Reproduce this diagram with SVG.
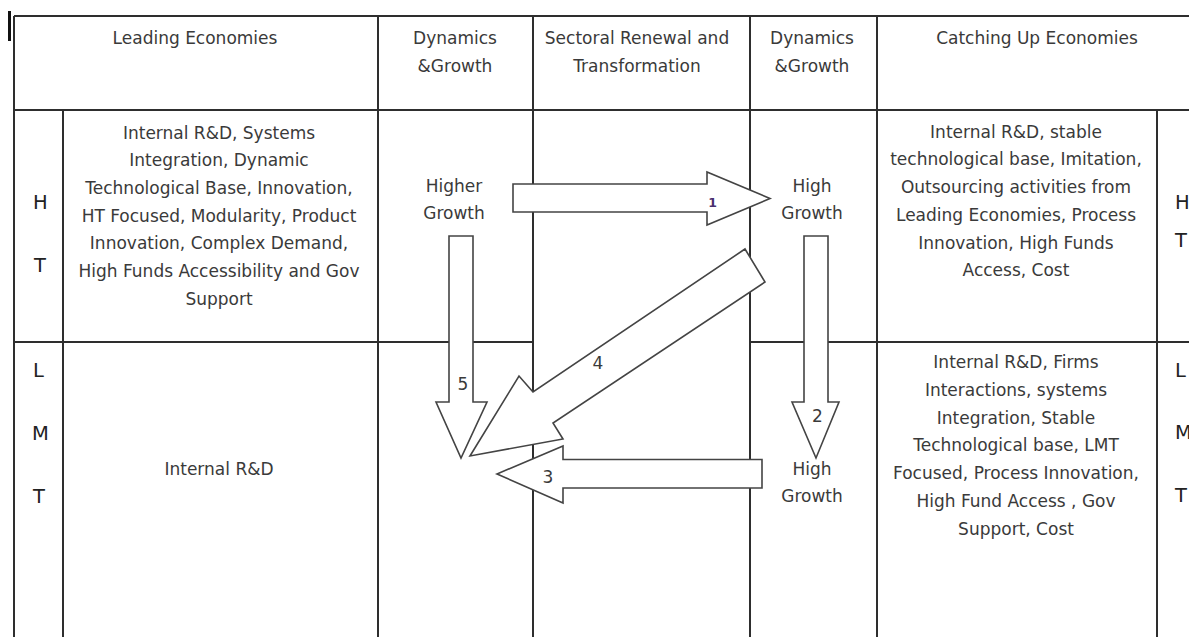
<svg xmlns="http://www.w3.org/2000/svg" width="1189" height="637" viewBox="0 0 1189 637">
<style>
.grid{stroke:#2e2e2e;stroke-width:2;fill:none}
.t{font-family:"DejaVu Sans",sans-serif;font-size:17px;fill:#3a3a3a;text-anchor:middle}
.big{font-family:"DejaVu Sans",sans-serif;font-size:19.5px;fill:#222}
.num{font-family:"DejaVu Sans",sans-serif;font-size:17px;fill:#3a3a3a;text-anchor:middle}
.arrow{fill:#fff;stroke:#444;stroke-width:1.6;stroke-linejoin:miter}
</style>
<rect x="0" y="0" width="1189" height="637" fill="#fff"/>
<rect x="8" y="11" width="3" height="30" fill="#111"/>
<g id="grid">
<line class="grid" x1="14" y1="16" x2="1189" y2="16"/>
<line class="grid" x1="14" y1="110" x2="1189" y2="110"/>
<line class="grid" x1="14" y1="342" x2="533" y2="342"/>
<line class="grid" x1="750" y1="342" x2="1189" y2="342"/>
<line class="grid" x1="14" y1="16" x2="14" y2="637"/>
<line class="grid" x1="63" y1="110" x2="63" y2="637"/>
<line class="grid" x1="378" y1="16" x2="378" y2="637"/>
<line class="grid" x1="533" y1="16" x2="533" y2="637"/>
<line class="grid" x1="750" y1="16" x2="750" y2="637"/>
<line class="grid" x1="877" y1="16" x2="877" y2="637"/>
<line class="grid" x1="1157" y1="110" x2="1157" y2="637"/>
</g>
<g id="hdr-leading"><text class="t" x="195" y="44">Leading Economies</text></g>
<g id="hdr-dyn1"><text class="t" x="455" y="44">Dynamics</text><text class="t" x="455" y="72">&amp;Growth</text></g>
<g id="hdr-sectoral"><text class="t" x="637" y="44">Sectoral Renewal and</text><text class="t" x="637" y="72">Transformation</text></g>
<g id="hdr-dyn2"><text class="t" x="812" y="44">Dynamics</text><text class="t" x="812" y="72">&amp;Growth</text></g>
<g id="hdr-catching"><text class="t" x="1037" y="44">Catching Up Economies</text></g>
<g id="row-ht-left"><text class="big" x="33" y="208.5">H</text><text class="big" x="34" y="271.5">T</text></g>
<g id="row-lmt-left"><text class="big" x="33" y="377">L</text><text class="big" x="32" y="439.5">M</text><text class="big" x="33" y="502.5">T</text></g>
<g id="row-ht-right"><text class="big" x="1175" y="208.5">H</text><text class="big" x="1175" y="246.5">T</text></g>
<g id="row-lmt-right"><text class="big" x="1175" y="377">L</text><text class="big" x="1175" y="438.5">M</text><text class="big" x="1175" y="502">T</text></g>
<g id="leading-ht">
<text class="t" x="219" y="138.5">Internal R&amp;D, Systems</text>
<text class="t" x="219" y="166.2">Integration, Dynamic</text>
<text class="t" x="219" y="193.9">Technological Base, Innovation,</text>
<text class="t" x="219" y="221.6">HT Focused, Modularity, Product</text>
<text class="t" x="219" y="249.3">Innovation, Complex Demand,</text>
<text class="t" x="219" y="277">High Funds Accessibility and Gov</text>
<text class="t" x="219" y="304.7">Support</text>
</g>
<g id="leading-lmt"><text class="t" x="219" y="475">Internal R&amp;D</text></g>
<g id="higher-growth"><text class="t" x="454" y="191.7">Higher</text><text class="t" x="454" y="219.3">Growth</text></g>
<g id="high-growth-ht"><text class="t" x="812" y="191.7">High</text><text class="t" x="812" y="219.3">Growth</text></g>
<g id="high-growth-lmt"><text class="t" x="812" y="474.5">High</text><text class="t" x="812" y="502">Growth</text></g>
<g id="catching-ht">
<text class="t" x="1016" y="137.7">Internal R&amp;D, stable</text>
<text class="t" x="1016" y="165.4">technological base, Imitation,</text>
<text class="t" x="1016" y="193.1">Outsourcing activities from</text>
<text class="t" x="1016" y="220.8">Leading Economies, Process</text>
<text class="t" x="1016" y="248.5">Innovation, High Funds</text>
<text class="t" x="1016" y="276.2">Access, Cost</text>
</g>
<g id="catching-lmt">
<text class="t" x="1016" y="368.3">Internal R&amp;D, Firms</text>
<text class="t" x="1016" y="396">Interactions, systems</text>
<text class="t" x="1016" y="423.7">Integration, Stable</text>
<text class="t" x="1016" y="451.4">Technological base, LMT</text>
<text class="t" x="1016" y="479.1">Focused, Process Innovation,</text>
<text class="t" x="1016" y="506.8">High Fund Access , Gov</text>
<text class="t" x="1016" y="534.5">Support, Cost</text>
</g>
<g id="connectors">
<polygon id="arrow1" class="arrow" points="513,184 707,184 707,172 770,198.5 707,225 707,212 513,212"/>
<polygon id="arrow5" class="arrow" points="449,236 473,236 473,402 487,402 461,458 436,402 449,402"/>
<polygon id="arrow2" class="arrow" points="804,236 828,236 828,402 839,402 816,458 792,402 804,402"/>
<polygon id="arrow3" class="arrow" points="762,459.5 762,488 563,488 563,503 497,474 563,446 563,459.5"/>
<polygon id="arrow4" class="arrow" points="745,249 765,282 553,423 563,439 470,456 519,376 533,392"/>
<text class="num" x="712.5" y="206.5" style="font-size:12.5px;font-weight:bold;fill:#4a2f6e">1</text>
<text class="num" x="817.5" y="421.5">2</text>
<text class="num" x="548" y="482.5">3</text>
<text class="num" x="598" y="369">4</text>
<text class="num" x="463" y="389.5">5</text>
</g>
</svg>
